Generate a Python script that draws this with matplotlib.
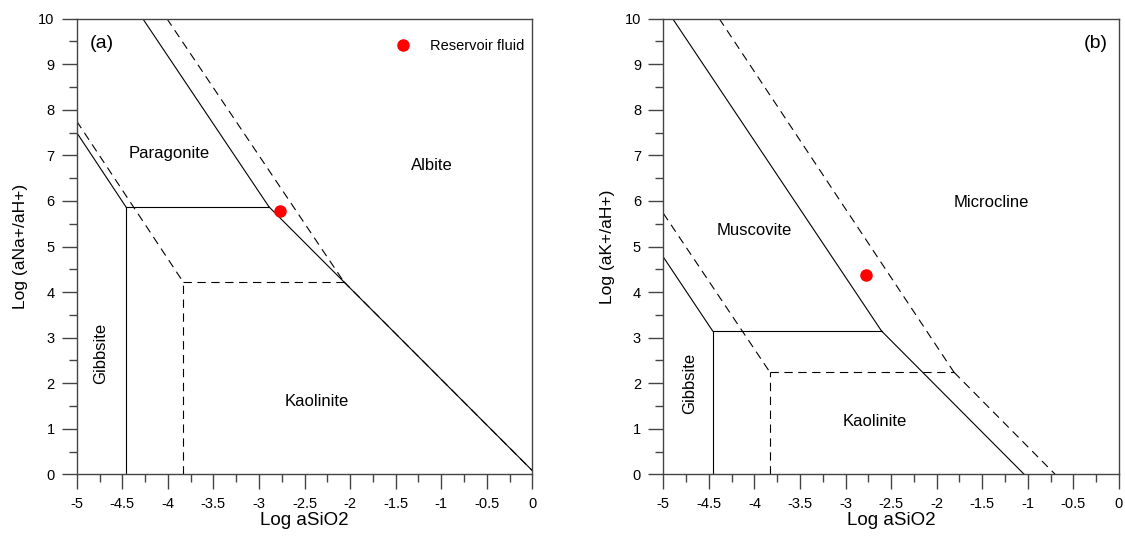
import matplotlib

matplotlib.use("Agg")
import matplotlib.pyplot as plt
from matplotlib.ticker import FuncFormatter, MultipleLocator

plt.rcParams["font.family"] = ["Liberation Sans", "DejaVu Sans"]
plt.rcParams["axes.unicode_minus"] = False
plt.rcParams["lines.scale_dashes"] = False

# panel (a): Na system, boundaries as (x list, y list)
a_solid = [
    ([-5.0, -4.46], [7.5, 5.87]),
    ([-4.46, -4.46], [0.0, 5.87]),
    ([-4.46, -2.89], [5.87, 5.87]),
    ([-4.275, -2.89], [10.0, 5.87]),
    ([-2.89, 0.0], [5.87, 0.08]),
]
a_dashed = [
    ([-5.0, -3.835], [7.75, 4.23]),
    ([-3.835, -3.835], [0.0, 4.23]),
    ([-3.835, -2.07], [4.23, 4.23]),
    ([-4.01, -2.07], [10.0, 4.23]),
    ([-2.07, 0.0], [4.23, 0.08]),
]
a_fluid_x = [-2.774]
a_fluid_y = [5.79]
a_labels = ["Paragonite", "Albite", "Gibbsite", "Kaolinite"]
a_label_x = [-3.99, -1.10, -4.74, -2.37]
a_label_y = [7.05, 6.77, 2.66, 1.59]

# panel (b): K system
b_solid = [
    ([-5.0, -4.458], [4.77, 3.145]),
    ([-4.458, -4.458], [0.0, 3.145]),
    ([-4.458, -2.605], [3.145, 3.145]),
    ([-4.897, -2.605], [10.0, 3.145]),
    ([-2.605, -1.04], [3.145, 0.0]),
]
b_dashed = [
    ([-5.0, -3.83], [5.73, 2.24]),
    ([-3.83, -3.83], [0.0, 2.24]),
    ([-3.83, -1.81], [2.24, 2.24]),
    ([-4.386, -1.81], [10.0, 2.24]),
    ([-1.81, -0.70], [2.24, 0.0]),
]
b_fluid_x = [-2.777]
b_fluid_y = [4.37]
b_labels = ["Microcline", "Muscovite", "Gibbsite", "Kaolinite"]
b_label_x = [-1.40, -4.00, -4.71, -2.68]
b_label_y = [5.96, 5.36, 2.0, 1.17]


def style_axes(ax):
    ax.set_xlim(-5, 0)
    ax.set_ylim(0, 10)
    ax.xaxis.set_major_locator(MultipleLocator(0.5))
    ax.xaxis.set_minor_locator(MultipleLocator(0.25))
    ax.yaxis.set_major_locator(MultipleLocator(1))
    ax.yaxis.set_minor_locator(MultipleLocator(0.5))
    ax.xaxis.set_major_formatter(FuncFormatter(lambda v, p: f"{v:g}"))
    ax.tick_params(which="major", direction="out", length=11, width=1.0,
                   color="#444444", labelsize=10.5, pad=5)
    ax.tick_params(which="minor", direction="out", length=5.5, width=1.0,
                   color="#444444")
    for spine in ax.spines.values():
        spine.set_color("#444444")
        spine.set_linewidth(1.0)


def draw_panel(ax, solid, dashed, fx, fy, labels, lx, ly, tag, tag_x, ylabel):
    for xs, ys in solid:
        ax.plot(xs, ys, color="black", lw=0.8)
    for xs, ys in dashed:
        ax.plot(xs, ys, color="black", lw=0.8, linestyle=(0, (6, 4)))
    ax.scatter(fx, fy, s=64, color="red", zorder=5, label="Reservoir fluid")
    for text, x, y in zip(labels, lx, ly):
        rot = 90 if text == "Gibbsite" else 0
        ax.text(x, y, text, fontsize=12, ha="center", va="center", rotation=rot)
    ax.text(tag_x, 0.946, tag, transform=ax.transAxes, fontsize=14,
            ha="center", va="center")
    ax.set_xlabel("Log aSiO2", fontsize=13.5, labelpad=1)
    ax.set_ylabel(ylabel, fontsize=12.5, labelpad=7)
    style_axes(ax)


fig = plt.figure(figsize=(11.25, 5.36), dpi=100)
ax_a = fig.add_axes([0.0682, 0.1151, 0.405, 0.850])
ax_b = fig.add_axes([0.5896, 0.1151, 0.405, 0.850])

draw_panel(ax_a, a_solid, a_dashed, a_fluid_x, a_fluid_y, a_labels,
           a_label_x, a_label_y, "(a)", 0.055, "Log (aNa+/aH+)")
draw_panel(ax_b, b_solid, b_dashed, b_fluid_x, b_fluid_y, b_labels,
           b_label_x, b_label_y, "(b)", 0.950, "Log (aK+/aH+)")

ax_a.legend(loc="upper right", bbox_to_anchor=(1.012, 0.985), frameon=False,
            fontsize=10.5, handletextpad=0.9, scatteryoffsets=[0.5])

fig.savefig("out.png", dpi=100)
